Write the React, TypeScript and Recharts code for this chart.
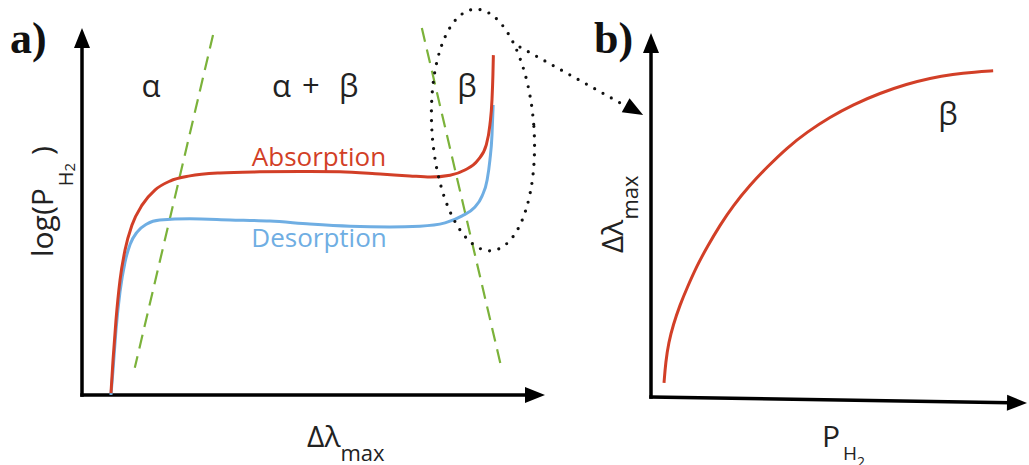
import React from 'react';
import { LineChart, Line, XAxis, YAxis, ReferenceLine, ReferenceDot } from 'recharts';

// ---------- Panel a: isotherm (log P vs Δλmax), schematic units 0..100 ----------
const absorption = [
  { x: 6.26, y: 0.5 }, { x: 6.7, y: 9.5 }, { x: 7.34, y: 20.4 }, { x: 8.21, y: 31.3 },
  { x: 9.29, y: 39.5 }, { x: 10.8, y: 46.3 }, { x: 13.0, y: 51.8 }, { x: 15.8, y: 55.9 },
  { x: 19.0, y: 58.3 }, { x: 23.3, y: 59.7 }, { x: 29.8, y: 60.5 }, { x: 38.4, y: 60.8 },
  { x: 47.1, y: 60.9 }, { x: 55.7, y: 60.8 }, { x: 64.4, y: 60.2 }, { x: 70.8, y: 59.7 },
  { x: 75.2, y: 59.4 }, { x: 79.5, y: 59.9 }, { x: 82.7, y: 61.3 }, { x: 85.5, y: 64.0 },
  { x: 87.3, y: 68.1 }, { x: 88.1, y: 73.6 }, { x: 88.55, y: 80.4 }, { x: 88.75, y: 87.2 },
  { x: 88.85, y: 92.6 },
];
const desorption = [
  { x: 6.26, y: 0 }, { x: 6.7, y: 6.8 }, { x: 7.34, y: 17.7 }, { x: 8.21, y: 28.1 },
  { x: 9.29, y: 36.2 }, { x: 10.4, y: 41.1 }, { x: 11.9, y: 44.4 }, { x: 14.0, y: 46.6 },
  { x: 16.8, y: 47.7 }, { x: 23.3, y: 48.0 }, { x: 32.0, y: 47.7 }, { x: 40.6, y: 47.4 },
  { x: 49.2, y: 46.6 }, { x: 57.9, y: 46.0 }, { x: 66.5, y: 45.8 }, { x: 73.0, y: 46.0 },
  { x: 78.4, y: 46.9 }, { x: 82.1, y: 48.8 }, { x: 84.7, y: 51.0 }, { x: 86.4, y: 54.2 },
  { x: 87.5, y: 58.6 }, { x: 88.1, y: 64.0 }, { x: 88.55, y: 70.8 }, { x: 88.8, y: 79.0 },
];
const boundaryLeft = [{ x: 28.3, y: 98.1 }, { x: 11.4, y: 7.4 }];
const boundaryRight = [{ x: 73.4, y: 100 }, { x: 90.7, y: 6.8 }];
const phaseLabels = ['α', 'α', '+', 'β', 'β'];
const seriesLabels = ['Absorption', 'Desorption'];

// ---------- Panel b: Δλmax vs P (β phase) ----------
const betaCurve = [
  { x: 3.46, y: 3.85 }, { x: 3.9, y: 9.6 }, { x: 4.7, y: 15.0 }, { x: 5.9, y: 19.8 },
  { x: 7.7, y: 25.3 }, { x: 9.6, y: 30.0 }, { x: 12.2, y: 36.0 }, { x: 14.9, y: 41.2 },
  { x: 18.4, y: 47.3 }, { x: 21.8, y: 52.5 }, { x: 26.3, y: 58.2 }, { x: 30.9, y: 63.2 },
  { x: 36.2, y: 68.5 }, { x: 41.5, y: 72.8 }, { x: 47.6, y: 76.9 }, { x: 53.7, y: 80.3 },
  { x: 60.9, y: 83.5 }, { x: 68.1, y: 86.0 }, { x: 74.2, y: 87.6 }, { x: 80.3, y: 88.7 },
  { x: 86.2, y: 89.3 }, { x: 91.0, y: 89.6 },
];

const RED = '#D23F27';
const BLUE = '#6FAEE3';
const GREEN = '#7BB23A';
const SANS = '"Open Sans", "Liberation Sans", sans-serif';
const SERIF = '"Liberation Serif", "DejaVu Serif", serif';

const arrowHead = (len: number, half: number, angle: number, color = '#000') => (p: any) => (
  <polygon
    points={`0,0 ${-len},${-half} ${-len},${half}`}
    transform={`translate(${p.cx},${p.cy}) rotate(${angle})`}
    fill={color}
  />
);

const axisLine = { stroke: '#000', strokeWidth: 3.5, strokeLinecap: 'square' as const };

export default function App() {
  return (
    <div style={{ position: 'absolute', left: 0, top: 0, width: 1029, height: 465, background: '#fff', overflow: 'hidden' }}>
      {/* Panel b */}
      <div style={{ position: 'absolute', left: 560, top: 0 }}>
        <LineChart width={469} height={465} margin={{ top: 33, right: 2, bottom: 68, left: 91 }}>
          <XAxis type="number" dataKey="x" domain={[0, 100]} hide />
          <YAxis type="number" dataKey="y" domain={[0, 100]} hide />
          <ReferenceLine segment={[{ x: 0, y: 0 }, { x: 0, y: 94.8 }]} ifOverflow="visible" {...axisLine} />
          <ReferenceLine segment={[{ x: 0, y: 0 }, { x: 95, y: -1.57 }]} ifOverflow="visible" {...axisLine} />
          <ReferenceDot x={0} y={100} r={0} ifOverflow="visible" shape={arrowHead(20, 8, -90)} />
          <ReferenceDot x={100} y={-1.65} r={0} ifOverflow="visible" shape={arrowHead(20, 8, 0.9)} />
          <Line data={betaCurve} dataKey="y" type="basis" stroke={RED} strokeWidth={3} dot={false} isAnimationActive={false} />
          <ReferenceDot x={-15.16} y={94.5} r={0} ifOverflow="visible"
            shape={(p: any) => <text x={p.cx} y={p.cy} fontFamily={SERIF} fontWeight="bold" fontSize={44} fill="#111">b)</text>} />
          <ReferenceDot x={79.0} y={74.7} r={0} ifOverflow="visible"
            shape={(p: any) => <text x={p.cx} y={p.cy} textAnchor="middle" fontFamily={SANS} fontSize={31} fill="#222">{phaseLabels[4]}</text>} />
          <ReferenceDot x={-7.45} y={39.56} r={0} ifOverflow="visible"
            shape={(p: any) => (
              <text transform={`translate(${p.cx},${p.cy}) rotate(-90)`} fontFamily={SANS} fontSize={30} fill="#222">
                Δλ<tspan fontSize={22} dy={15}>max</tspan>
              </text>
            )} />
          <ReferenceDot x={45.48} y={-13.74} r={0} ifOverflow="visible"
            shape={(p: any) => (
              <text x={p.cx} y={p.cy} fontFamily={SANS} fontSize={30} fill="#222">
                P<tspan fontSize={19} dy={13} dx={3}>H</tspan><tspan fontSize={14} dy={7}>2</tspan>
              </text>
            )} />
        </LineChart>
      </div>

      {/* Panel a */}
      <div style={{ position: 'absolute', left: 0, top: 0 }}>
        <LineChart width={700} height={465} margin={{ top: 28, right: 39.25, bottom: 70, left: 82 }}>
          <XAxis type="number" dataKey="x" domain={[0, 125]} hide />
          <YAxis type="number" dataKey="y" domain={[0, 100]} hide />
          <ReferenceLine segment={[{ x: 0, y: 0 }, { x: 0, y: 94.5 }]} ifOverflow="visible" {...axisLine} />
          <ReferenceLine segment={[{ x: 0, y: 0 }, { x: 95.9, y: 0 }]} ifOverflow="visible" {...axisLine} />
          <ReferenceDot x={0} y={100} r={0} ifOverflow="visible" shape={arrowHead(20, 8, -90)} />
          <ReferenceDot x={100} y={0} r={0} ifOverflow="visible" shape={arrowHead(20, 8, 0)} />

          <ReferenceLine segment={boundaryLeft} ifOverflow="visible" stroke={GREEN} strokeWidth={2.2} strokeDasharray="14 8" />
          <ReferenceLine segment={boundaryRight} ifOverflow="visible" stroke={GREEN} strokeWidth={2.2} strokeDasharray="14 8" />

          <Line data={desorption} dataKey="y" type="monotone" stroke={BLUE} strokeWidth={3} dot={false} isAnimationActive={false} />
          <Line data={absorption} dataKey="y" type="monotone" stroke={RED} strokeWidth={3} dot={false} isAnimationActive={false} />

          {/* dotted ellipse around β region and dotted arrow to panel b */}
          <ReferenceDot x={86.6} y={72.2} r={0} ifOverflow="visible"
            shape={(p: any) => (
              <ellipse cx={p.cx} cy={p.cy} rx={51} ry={121} transform={`rotate(-4, ${p.cx}, ${p.cy})`}
                fill="none" stroke="#111" strokeWidth={3.2} strokeDasharray="0 9.5" strokeLinecap="round" />
            )} />
          <ReferenceLine segment={[{ x: 94.6, y: 94.8 }, { x: 118.5, y: 78.0 }]} ifOverflow="visible"
            stroke="#111" strokeWidth={3.2} strokeDasharray="0 9.5" strokeLinecap="round" />
          <ReferenceDot x={121.2} y={76.3} r={0} ifOverflow="visible" shape={arrowHead(20, 8, 28.9)} />

          <ReferenceDot x={-15.55} y={93.19} r={0} ifOverflow="visible"
            shape={(p: any) => <text x={p.cx} y={p.cy} fontFamily={SERIF} fontWeight="bold" fontSize={44} fill="#111">a)</text>} />
          <ReferenceDot x={14.9} y={81.2} r={0} ifOverflow="visible"
            shape={(p: any) => <text x={p.cx} y={p.cy} textAnchor="middle" fontFamily={SANS} fontSize={31} fill="#222">{phaseLabels[0]}</text>} />
          <ReferenceDot x={41.04} y={81.2} r={0} ifOverflow="visible"
            shape={(p: any) => (
              <text y={p.cy} fontFamily={SANS} fontSize={31} fill="#222">
                <tspan x={p.cx}>{phaseLabels[1]}</tspan>
                <tspan x={p.cx + 30}>{phaseLabels[2]}</tspan>
                <tspan x={p.cx + 67}>{phaseLabels[3]}</tspan>
              </text>
            )} />
          <ReferenceDot x={83.15} y={81.2} r={0} ifOverflow="visible"
            shape={(p: any) => <text x={p.cx} y={p.cy} textAnchor="middle" fontFamily={SANS} fontSize={31} fill="#222">{phaseLabels[4]}</text>} />
          <ReferenceDot x={51.19} y={62.4} r={0} ifOverflow="visible"
            shape={(p: any) => <text x={p.cx} y={p.cy} textAnchor="middle" fontFamily={SANS} fontSize={26} fill={RED}>{seriesLabels[0]}</text>} />
          <ReferenceDot x={51.19} y={40.33} r={0} ifOverflow="visible"
            shape={(p: any) => <text x={p.cx} y={p.cy} textAnchor="middle" fontFamily={SANS} fontSize={26} fill={BLUE}>{seriesLabels[1]}</text>} />
          <ReferenceDot x={-6.26} y={37.6} r={0} ifOverflow="visible"
            shape={(p: any) => (
              <text transform={`translate(${p.cx},${p.cy}) rotate(-90)`} fontFamily={SANS} fontSize={30} fill="#222" xmlSpace="preserve">
                log(P<tspan fontSize={20} dy={20} dx={2}>H</tspan><tspan fontSize={15} dy={2}>2</tspan><tspan fontSize={30} dy={-22}> )</tspan>
              </text>
            )} />
          <ReferenceDot x={48.6} y={-14.17} r={0} ifOverflow="visible"
            shape={(p: any) => (
              <text x={p.cx} y={p.cy} fontFamily={SANS} fontSize={30} fill="#222">
                Δλ<tspan fontSize={22} dy={14}>max</tspan>
              </text>
            )} />
        </LineChart>
      </div>
    </div>
  );
}
